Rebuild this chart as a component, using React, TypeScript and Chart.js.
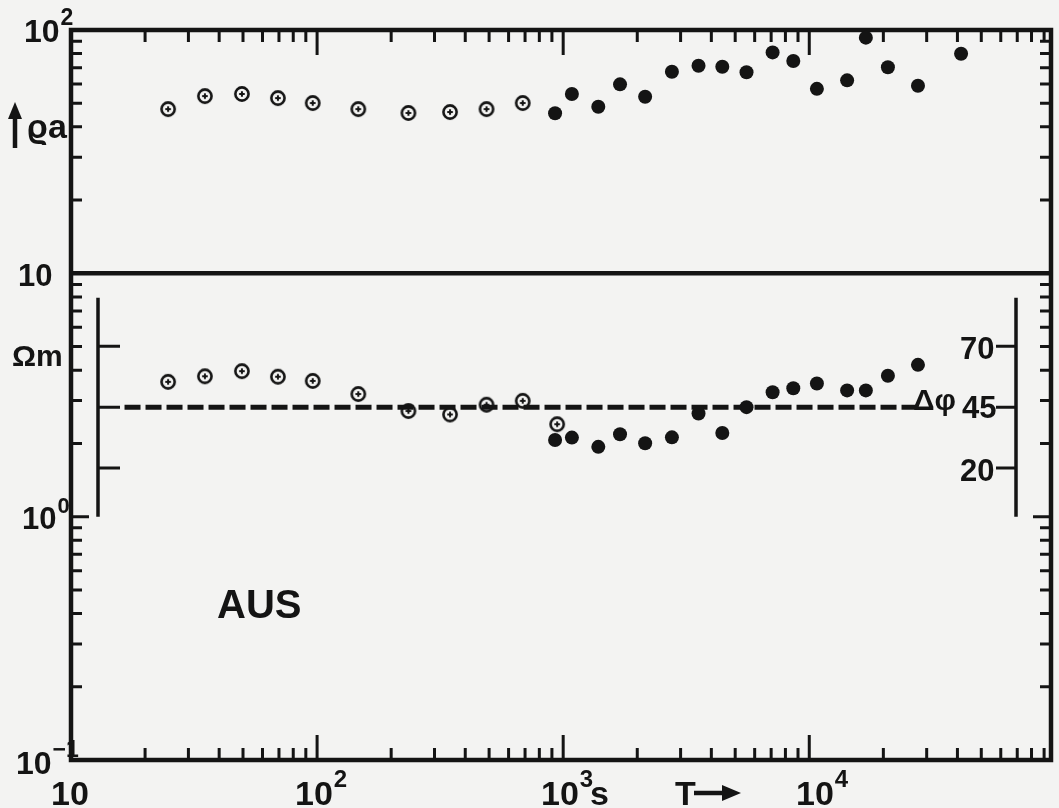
import React, { useEffect, useRef } from "react";
import { Chart, registerables } from "chart.js";

Chart.register(...registerables);

const W = 1059;
const H = 808;
const INK = "#141414";
const PAPER = "#f3f3f2";
const FONT = "'Liberation Sans', 'DejaVu Sans', Arial, sans-serif";
const NARROW = "'Liberation Sans Narrow', 'Liberation Sans', Arial, sans-serif";

// Period T in seconds
const periodsOpen = [24.8, 35, 49.5, 69.3, 96, 147, 235, 347, 488, 685];
const rhoOpen = [47.3, 53.5, 54.6, 52.5, 50.1, 47.3, 45.6, 46.0, 47.3, 50.1];

const periodsPhaseOpen = [24.8, 35, 49.5, 69.3, 96, 147, 235, 347, 488, 685, 945];
const phaseOpen = [55.4, 57.7, 59.8, 57.5, 55.8, 50.4, 43.4, 42.0, 46.0, 47.6, 38.0];

const periodsFilled = [927, 1085, 1389, 1702, 2153, 2766, 3548, 4432, 5559, 7096, 8611, 10740, 14250, 16980, 20870, 27650, 41390];
const rhoFilled = [45.5, 54.6, 48.4, 59.8, 53.2, 67.4, 71.3, 70.6, 67.0, 80.9, 74.6, 57.3, 62.1, 93.0, 70.3, 59.0, 79.9];
const phaseFilled = [31.5, 32.5, 28.7, 33.9, 30.2, 32.6, 42.4, 34.4, 45.0, 51.1, 52.8, 54.7, 51.9, 51.9, 57.9, 62.4, null];

const refLinePeriods = [16.5, 27500];
const refLinePhase = [45, 45];

const phaseTicks = [20, 45, 70];
const phaseRange = [0, 90];

const X_MIN = 10;
const X_MAX = 96000;
const Y_MIN = 0.1;
const Y_MAX = 100;

function makeOpenMarker(): HTMLCanvasElement {
  const c = document.createElement("canvas");
  c.width = 20;
  c.height = 20;
  const g = c.getContext("2d")!;
  g.strokeStyle = INK;
  g.lineWidth = 2.6;
  g.beginPath();
  g.arc(10, 10, 6.6, 0, Math.PI * 2);
  g.stroke();
  g.lineWidth = 2;
  g.beginPath();
  g.moveTo(7.2, 10);
  g.lineTo(12.8, 10);
  g.moveTo(10, 7.2);
  g.lineTo(10, 12.8);
  g.stroke();
  return c;
}

function pts(xs: number[], ys: (number | null)[]) {
  const out: { x: number; y: number }[] = [];
  xs.forEach((x, i) => {
    const y = ys[i];
    if (y !== null && y !== undefined) out.push({ x, y });
  });
  return out;
}

function font(fs: number, fam = FONT) {
  return `bold ${fs}px ${fam}`;
}

function drawPow(ctx: CanvasRenderingContext2D, base: string, exp: string, x: number, y: number, fs: number) {
  ctx.font = font(fs, NARROW);
  ctx.fillText(base, x, y);
  const w = ctx.measureText(base).width;
  ctx.font = font(Math.round(fs * 0.72), NARROW);
  ctx.fillText(exp, x + w + 1, y - fs * 0.52);
}

const decor = {
  id: "decor",
  beforeDatasetsDraw(chart: any) {
    const ctx: CanvasRenderingContext2D = chart.ctx;
    const { left, right, top, bottom } = chart.chartArea;
    const xs = chart.scales.x;
    const ys = chart.scales.y;
    const yp = chart.scales.yp;
    ctx.save();
    ctx.strokeStyle = INK;
    ctx.fillStyle = INK;
    ctx.lineCap = "butt";

    // frame
    ctx.lineWidth = 4.5;
    ctx.strokeRect(left, top, right - left, bottom - top);

    // line at rho = 10
    const y10 = ys.getPixelForValue(10);
    ctx.beginPath();
    ctx.moveTo(left, y10);
    ctx.lineTo(right, y10);
    ctx.stroke();

    // x ticks (inward, top and bottom)
    ctx.lineWidth = 3;
    for (const e of [1, 2, 3, 4]) {
      for (let k = 1; k <= 9; k++) {
        const v = k * Math.pow(10, e);
        if (v <= X_MIN * 1.001 || v >= X_MAX) continue;
        const px = xs.getPixelForValue(v);
        const len = k === 1 ? 25 : 12;
        ctx.beginPath();
        ctx.moveTo(px, top);
        ctx.lineTo(px, top + len);
        ctx.moveTo(px, bottom);
        ctx.lineTo(px, bottom - len);
        ctx.stroke();
      }
    }
    // y ticks (inward, left and right)
    for (const e of [-1, 0, 1]) {
      for (let k = 1; k <= 9; k++) {
        const v = k * Math.pow(10, e);
        if (v <= Y_MIN * 1.001 || v >= Y_MAX * 0.999 || Math.abs(v - 10) < 1e-9) continue;
        const py = ys.getPixelForValue(v);
        const len = k === 1 ? 18 : 11;
        ctx.beginPath();
        ctx.moveTo(left, py);
        ctx.lineTo(left + len, py);
        ctx.moveTo(right, py);
        ctx.lineTo(right - len, py);
        ctx.stroke();
      }
    }

    // phase axes
    const pTop = yp.getPixelForValue(phaseRange[1]);
    const pBot = yp.getPixelForValue(phaseRange[0]);
    const lx = left + 27;
    const rx = right - 35;
    ctx.lineWidth = 3.5;
    ctx.beginPath();
    ctx.moveTo(lx, pTop);
    ctx.lineTo(lx, pBot);
    ctx.moveTo(rx, pTop);
    ctx.lineTo(rx, pBot);
    ctx.stroke();
    ctx.lineWidth = 3;
    for (const t of phaseTicks) {
      const py = yp.getPixelForValue(t);
      ctx.beginPath();
      ctx.moveTo(lx, py);
      ctx.lineTo(lx + 22, py);
      ctx.moveTo(rx, py);
      ctx.lineTo(rx - 20, py);
      ctx.stroke();
    }
    ctx.restore();
  },
  afterDraw(chart: any) {
    const ctx: CanvasRenderingContext2D = chart.ctx;
    ctx.save();
    ctx.fillStyle = INK;
    ctx.strokeStyle = INK;
    ctx.textBaseline = "alphabetic";
    ctx.textAlign = "left";

    // x-axis labels
    drawPow(ctx, "10", "", 51, 805, 34);
    drawPow(ctx, "10", "2", 295, 805, 34);
    drawPow(ctx, "10", "3", 541, 805, 34);
    ctx.font = font(34, NARROW);
    ctx.fillText("s", 590, 805);
    ctx.fillText("T", 675, 805);
    // arrow after T
    ctx.lineWidth = 4.5;
    ctx.beginPath();
    ctx.moveTo(694, 793);
    ctx.lineTo(726, 793);
    ctx.stroke();
    ctx.beginPath();
    ctx.moveTo(741, 793);
    ctx.lineTo(722, 785);
    ctx.lineTo(722, 801);
    ctx.closePath();
    ctx.fill();
    drawPow(ctx, "10", "4", 796, 805, 34);

    // y-axis labels
    drawPow(ctx, "10", "2", 24, 42, 32);
    drawPow(ctx, "10", "", 18, 286, 31);
    drawPow(ctx, "10", "0", 22, 529, 31);
    drawPow(ctx, "10", "\u22121", 16, 774, 32);

    // rho_a with arrow
    ctx.lineWidth = 4.5;
    ctx.beginPath();
    ctx.moveTo(15, 148);
    ctx.lineTo(15, 116);
    ctx.stroke();
    ctx.beginPath();
    ctx.moveTo(15, 102);
    ctx.lineTo(8, 119);
    ctx.lineTo(22, 119);
    ctx.closePath();
    ctx.fill();
    ctx.font = font(34);
    ctx.fillText("\u03f1a", 27, 138);

    ctx.font = font(30);
    ctx.fillText("\u03a9m", 12, 366);

    ctx.font = font(40);
    ctx.fillText("AUS", 217, 618);

    // phase labels
    ctx.font = font(31);
    ctx.fillText("70", 960, 359);
    ctx.fillText("45", 962, 418);
    ctx.fillText("20", 960, 481);
    ctx.font = font(30);
    ctx.fillText("\u0394\u03c6", 913, 410);

    ctx.restore();
  },
};

export default function App() {
  const ref = useRef<HTMLCanvasElement | null>(null);
  useEffect(() => {
    if (!ref.current) return;
    const openMarker = makeOpenMarker();
    const chart = new Chart(ref.current, {
      type: "scatter",
      data: {
        datasets: [
          {
            label: "45°",
            data: pts(refLinePeriods, refLinePhase),
            yAxisID: "yp",
            showLine: true,
            borderColor: INK,
            borderWidth: 5,
            borderDash: [16, 5],
            pointRadius: 0,
            fill: false,
          } as any,
          {
            label: "rho open",
            data: pts(periodsOpen, rhoOpen),
            yAxisID: "y",
            pointStyle: openMarker as any,
            pointRadius: 7,
          },
          {
            label: "rho filled",
            data: pts(periodsFilled, rhoFilled),
            yAxisID: "y",
            pointStyle: "circle",
            pointRadius: 7,
            backgroundColor: INK,
            borderColor: INK,
            borderWidth: 0,
          },
          {
            label: "phase open",
            data: pts(periodsPhaseOpen, phaseOpen),
            yAxisID: "yp",
            pointStyle: openMarker as any,
            pointRadius: 7,
          },
          {
            label: "phase filled",
            data: pts(periodsFilled, phaseFilled),
            yAxisID: "yp",
            pointStyle: "circle",
            pointRadius: 7,
            backgroundColor: INK,
            borderColor: INK,
            borderWidth: 0,
          },
        ],
      },
      options: {
        responsive: false,
        animation: false,
        devicePixelRatio: 1,
        events: [],
        layout: { padding: { left: 71, top: 30, right: W - 1051, bottom: H - 760 } },
        plugins: { legend: { display: false }, tooltip: { enabled: false } },
        scales: {
          x: { type: "logarithmic", min: X_MIN, max: X_MAX, display: false },
          y: { type: "logarithmic", min: Y_MIN, max: Y_MAX, display: false },
          yp: { type: "linear", min: -100, max: 200, display: false },
        },
      },
      plugins: [decor],
    });
    return () => chart.destroy();
  }, []);
  return (
    <div style={{ position: "fixed", left: 0, top: 0, width: W, height: H, background: PAPER }}>
      <canvas ref={ref} width={W} height={H} style={{ width: W, height: H, display: "block" }} />
    </div>
  );
}
